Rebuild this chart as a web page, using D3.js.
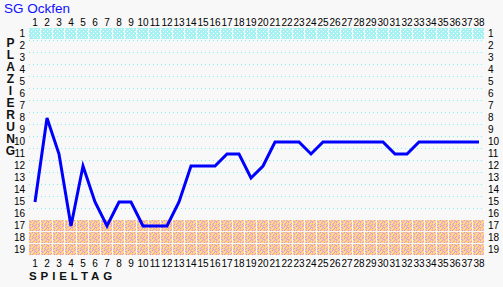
<!DOCTYPE html>
<html>
<head>
<meta charset="utf-8">
<script src="https://cdn.jsdelivr.net/npm/d3@7"></script>
<style>
  body { margin: 0; background: #f8f8f8; }
  svg text { font-family: Arial, "Liberation Sans", sans-serif; }
</style>
</head>
<body>
<div id="chart"></div>
<script>
const spieltage = d3.range(1, 39);
const plaetze = d3.range(1, 20);
const platzierung = [15, 8, 11, 17, 12, 15, 17, 15, 15, 17, 17, 17, 15, 12, 12, 12, 11, 11, 13, 12,
    10, 10, 10, 11, 10, 10, 10, 10, 10, 10, 11, 11, 10, 10, 10, 10, 10, 10];
const topRows = [1];
const bottomRows = [17, 18, 19];
const yLabel = "PLAZIERUNG".split("");
const xLabel = "SPIELTAG";

const width = 503, height = 287;

const svg = d3.select("#chart").append("svg")
    .attr("width", width)
    .attr("height", height);

svg.append("rect").attr("width", width).attr("height", height).attr("fill", "#f8f8f8");

const x = d3.scaleLinear().domain([1, 38]).range([35, 479]);
const y = d3.scaleLinear().domain([1, 19]).range([34, 250]);

// patterns for the coloured cells
const defs = svg.append("defs");
const cyan = defs.append("pattern").attr("id", "cyanPat")
    .attr("patternUnits", "userSpaceOnUse").attr("width", 4).attr("height", 4);
cyan.append("rect").attr("width", 4).attr("height", 4).attr("fill", "#a6f2f2");
[[1, 1], [3, 3]].forEach(([a, b]) => {
    cyan.append("rect").attr("x", a).attr("y", b).attr("width", 1).attr("height", 1).attr("fill", "#ffffff");
});

const pink = defs.append("pattern").attr("id", "pinkPat")
    .attr("patternUnits", "userSpaceOnUse").attr("width", 6).attr("height", 6);
const pinkCols = ["#ee96ee", "#ffd070", "#c49cff", "#fbe0a0"];
const pinkGrid = [
    [0, 1, 3, 1, 0, 3],
    [1, 3, 1, 0, 1, 1],
    [2, 1, 0, 1, 3, 1],
    [1, 3, 1, 2, 1, 0],
    [3, 1, 2, 1, 0, 1],
    [0, 1, 1, 3, 1, 2]
];
pinkGrid.forEach((row, j) => row.forEach((c, i) => {
    pink.append("rect").attr("x", i).attr("y", j).attr("width", 1).attr("height", 1).attr("fill", pinkCols[c]);
}));

// dotted grid lines
svg.append("g")
    .selectAll("line")
    .data(d3.range(1, 17))
    .enter().append("line")
    .attr("x1", x(1) - 6).attr("x2", x(38) + 6)
    .attr("y1", d => y(d) + 6.5).attr("y2", d => y(d) + 6.5)
    .attr("stroke", "#80f0f0")
    .attr("stroke-width", 1)
    .attr("stroke-dasharray", "1,3");

// cells
const cells = [];
topRows.forEach(r => spieltage.forEach(s => cells.push({ s, r, fill: "url(#cyanPat)" })));
bottomRows.forEach(r => spieltage.forEach(s => cells.push({ s, r, fill: "url(#pinkPat)" })));
svg.append("g")
    .selectAll("rect")
    .data(cells)
    .enter().append("rect")
    .attr("x", d => x(d.s) - 6)
    .attr("y", d => y(d.r) - 6)
    .attr("width", 11)
    .attr("height", 11)
    .attr("fill", d => d.fill);

// tick labels
const num = svg.append("g").attr("font-size", "10px").attr("fill", "#000");
spieltage.forEach(s => {
    num.append("text").attr("x", x(s)).attr("y", 26).attr("text-anchor", "middle").text(s);
    num.append("text").attr("x", x(s)).attr("y", 267).attr("text-anchor", "middle").text(s);
});
plaetze.forEach(p => {
    num.append("text").attr("x", 25).attr("y", y(p) + 3).attr("text-anchor", "end").text(p);
    num.append("text").attr("x", 488).attr("y", y(p) + 3).attr("text-anchor", "start").text(p);
});

// line
const line = d3.line()
    .x((d, i) => x(spieltage[i]))
    .y(d => y(d));
svg.append("path")
    .datum(platzierung)
    .attr("d", line)
    .attr("fill", "none")
    .attr("stroke", "#0000ff")
    .attr("stroke-width", 3)
    .attr("stroke-linejoin", "miter");

// titles
svg.append("text")
    .attr("x", 4).attr("y", 13)
    .attr("font-size", "13.5px")
    .attr("fill", "#1010ff")
    .text("SG Ockfen");

// vertical label as one text with stacked letters
svg.append("text")
    .attr("text-anchor", "middle")
    .attr("font-size", "12px")
    .attr("font-weight", "bold")
    .attr("fill", "#111")
    .selectAll("tspan")
    .data(yLabel)
    .enter().append("tspan")
    .attr("x", 10.5)
    .attr("y", (d, i) => 46.5 + i * 12)
    .text(d => d);

svg.append("text")
    .attr("x", 29).attr("y", 280)
    .attr("font-size", "11.5px")
    .attr("font-weight", "bold")
    .attr("letter-spacing", "3.9px")
    .attr("fill", "#111")
    .text(xLabel);
</script>
</body>
</html>
